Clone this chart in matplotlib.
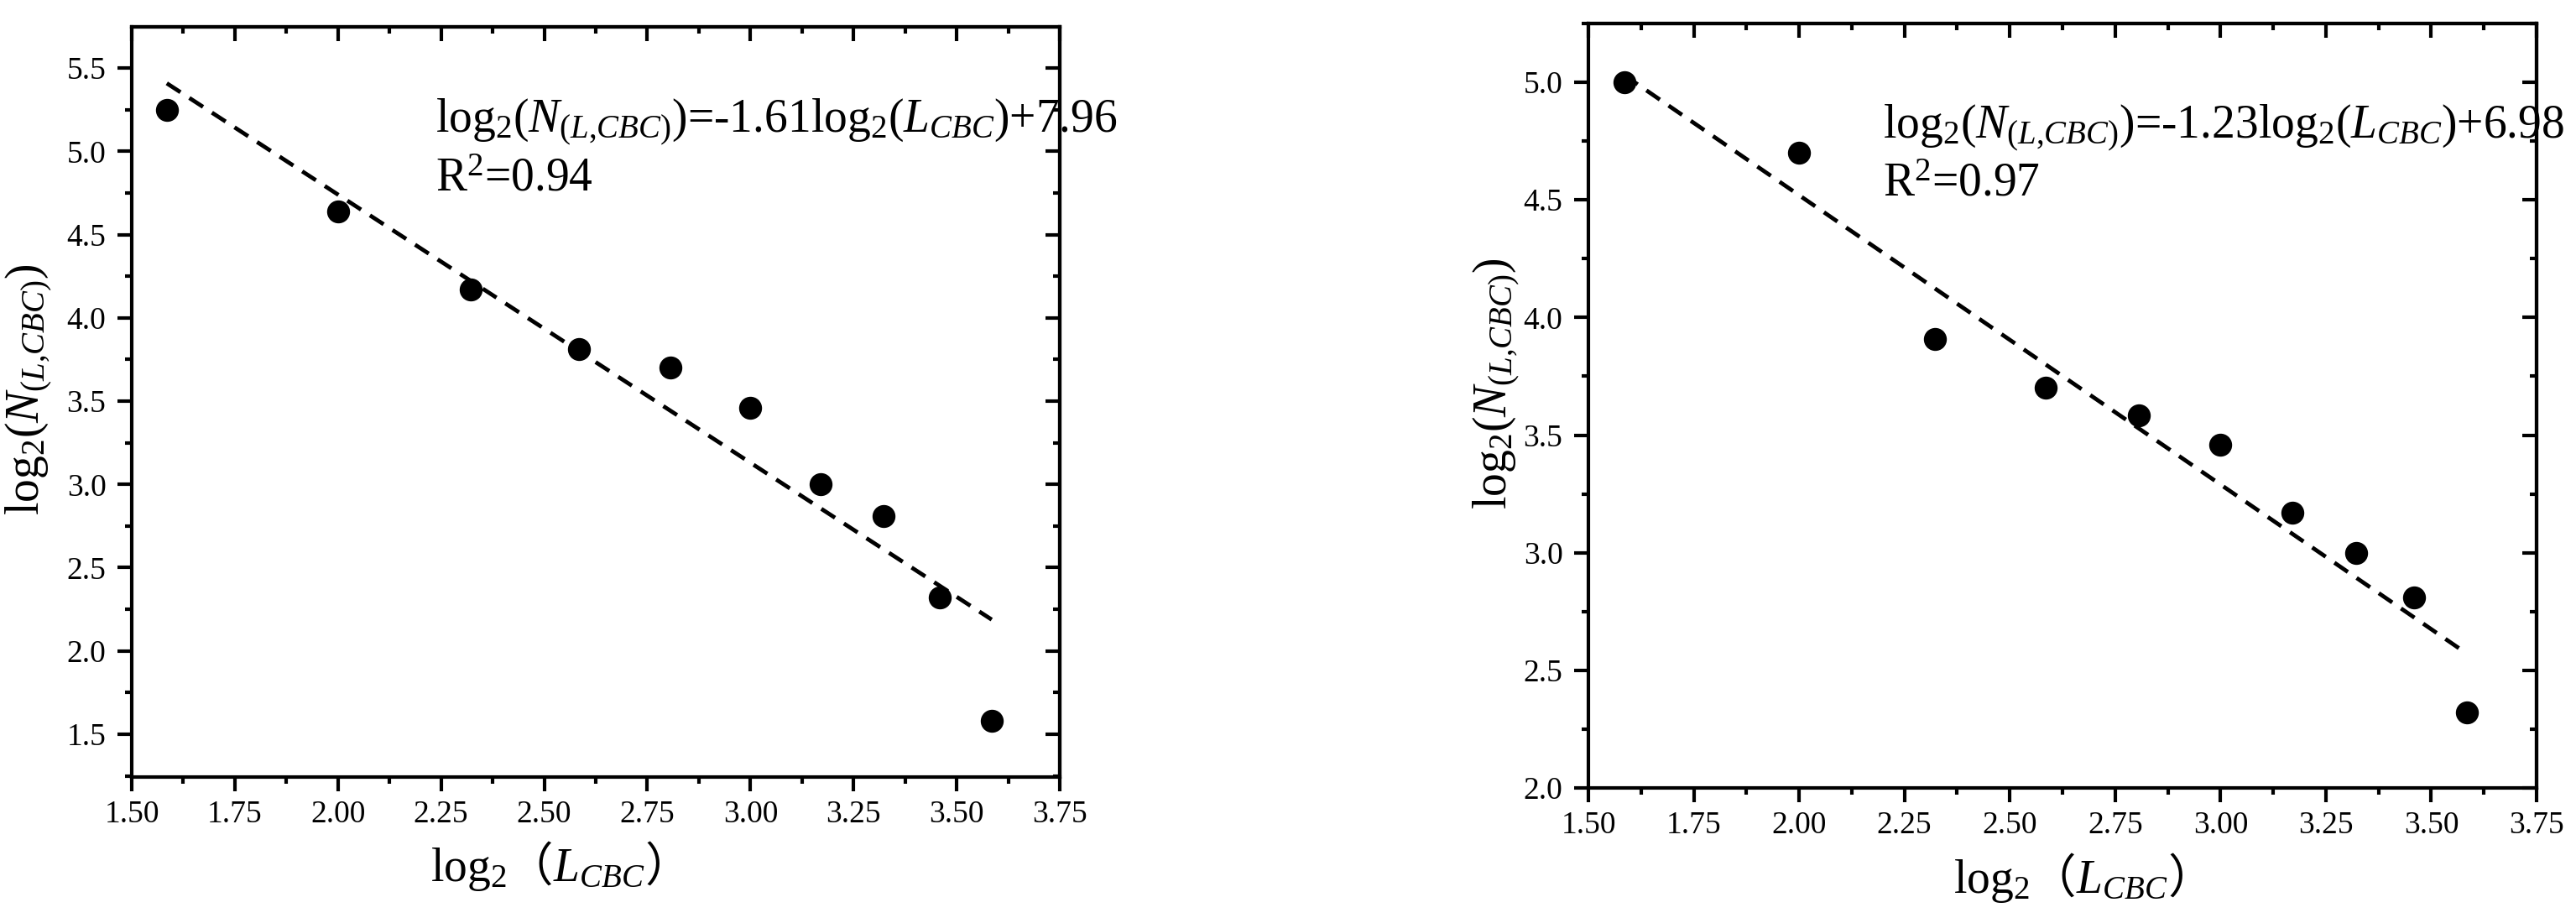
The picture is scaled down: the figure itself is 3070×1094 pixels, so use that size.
import numpy as np
import matplotlib
matplotlib.use("Agg")
import matplotlib.pyplot as plt
from matplotlib.ticker import AutoMinorLocator, FormatStrFormatter, NullFormatter

plt.rcParams['font.family'] = ['Liberation Serif', 'Noto Sans CJK SC', 'DejaVu Sans']
plt.rcParams['mathtext.fontset'] = 'custom'
plt.rcParams['mathtext.rm'] = 'Liberation Serif'
plt.rcParams['mathtext.it'] = 'Liberation Serif:italic'
plt.rcParams['mathtext.bf'] = 'Liberation Serif:bold'

# ---- data ----
x_left = [1.585, 2.000, 2.322, 2.585, 2.807, 3.000, 3.170, 3.322, 3.459, 3.585]
y_left = [5.25, 4.64, 4.17, 3.81, 3.70, 3.46, 3.00, 2.81, 2.32, 1.58]
x_right = [1.585, 2.000, 2.322, 2.585, 2.807, 3.000, 3.170, 3.322, 3.459, 3.585]
y_right = [5.00, 4.70, 3.91, 3.70, 3.585, 3.46, 3.17, 3.00, 2.81, 2.32]
fit_left = (-1.61, 7.96)
fit_right = (-1.23, 6.98)
eq_left = r"log$_2$($N_{(L{,}CBC)}$)=-1.61log$_2$($L_{CBC}$)+7.96"
r2_left = r"R$^2$=0.94"
eq_right = r"log$_2$($N_{(L{,}CBC)}$)=-1.23log$_2$($L_{CBC}$)+6.98"
r2_right = r"R$^2$=0.97"
xticks = [1.50, 1.75, 2.00, 2.25, 2.50, 2.75, 3.00, 3.25, 3.50, 3.75]
yticks_left = [1.5, 2.0, 2.5, 3.0, 3.5, 4.0, 4.5, 5.0, 5.5]
yticks_right = [2.0, 2.5, 3.0, 3.5, 4.0, 4.5, 5.0]

W, H = 3070, 1094
fig = plt.figure(figsize=(W / 100, H / 100), dpi=100)
fig.patch.set_facecolor('white')

axL = fig.add_axes([157 / W, 1 - 926 / H, 1106 / W, 894 / H])
axR = fig.add_axes([1893 / W, 1 - 939 / H, 1130 / W, 911 / H])

TICK_FS = 27
LW = 3.0


def style(ax, yticks, ylim):
    ax.set_xlim(1.5, 3.75)
    ax.set_ylim(*ylim)
    ax.set_xticks(xticks)
    ax.set_yticks(yticks)
    ax.xaxis.set_major_formatter(FormatStrFormatter('%.2f'))
    ax.yaxis.set_major_formatter(FormatStrFormatter('%.1f'))
    ax.xaxis.set_minor_locator(AutoMinorLocator(2))
    ax.yaxis.set_minor_locator(AutoMinorLocator(2))
    ax.tick_params(which='both', direction='out', width=LW, labelsize=TICK_FS,
                   top=False, right=False)
    ax.tick_params(which='major', length=12)
    ax.tick_params(which='minor', length=6)
    ax.tick_params(axis='x', pad=8)
    ax.tick_params(axis='y', pad=10)
    for sp in ax.spines.values():
        sp.set_linewidth(LW)
    # top/right inward ticks
    sx = ax.secondary_xaxis('top')
    sx.set_xticks(xticks)
    sx.xaxis.set_minor_locator(AutoMinorLocator(2))
    sx.xaxis.set_major_formatter(NullFormatter())
    sx.tick_params(which='both', direction='in', width=LW)
    sx.tick_params(which='major', length=12)
    sx.tick_params(which='minor', length=6)
    sx.spines['top'].set_linewidth(LW)
    sy = ax.secondary_yaxis('right')
    sy.set_yticks(yticks)
    sy.yaxis.set_minor_locator(AutoMinorLocator(2))
    sy.yaxis.set_major_formatter(NullFormatter())
    sy.tick_params(which='both', direction='in', width=LW)
    sy.tick_params(which='major', length=12)
    sy.tick_params(which='minor', length=6)
    sy.spines['right'].set_linewidth(LW)


def draw(ax, x, y, fit):
    ax.plot(x, y, 'o', color='black', ms=18.7, zorder=3)
    xf = np.array([x[0], x[-1]])
    yf = fit[0] * xf + fit[1]
    ax.plot(xf, yf, color='black', lw=3.5, ls=(0, (4.0, 2.6)), zorder=2)


draw(axL, x_left, y_left, fit_left)
draw(axR, x_right, y_right, fit_right)
style(axL, yticks_left, (1.243, 5.747))
style(axR, yticks_right, (2.0, 5.25))

EQ_FS = 40
axL.text(0.327, (926 - 157) / 894, eq_left, transform=axL.transAxes,
         fontsize=EQ_FS, ha='left', va='baseline')
axL.text(0.327, (926 - 227) / 894, r2_left, transform=axL.transAxes,
         fontsize=EQ_FS, ha='left', va='baseline')
axR.text(0.311, (939 - 164) / 911, eq_right, transform=axR.transAxes,
         fontsize=EQ_FS, ha='left', va='baseline')
axR.text(0.311, (939 - 234) / 911, r2_right, transform=axR.transAxes,
         fontsize=EQ_FS, ha='left', va='baseline')

renderer = fig.canvas.get_renderer()
SERIF = ['Liberation Serif']
CJK = ['Noto Sans CJK SC', 'DejaVu Sans']


def xlabel_chain(x_px, y_px, size=40):
    pieces = [("log$_2$", SERIF), ("（", CJK), ("$L_{CBC}$", SERIF), ("）", CJK)]
    pos = x_px
    for s, fam in pieces:
        t = fig.text(pos / W, 1 - y_px / H, s, ha='left', va='baseline',
                     fontsize=size, family=fam)
        pos += t.get_window_extent(renderer).width


def ylabel(x_px, y_px, size=40):
    fig.text(x_px / W, 1 - y_px / H, r"log$_2$($N_{(L{,}CBC)}$)", ha='left',
             va='baseline', rotation=90, rotation_mode='anchor', fontsize=size)


xlabel_chain(513, 1050)
xlabel_chain(2328, 1064)
ylabel(46, 614)
ylabel(1795, 607)

fig.savefig("out.png", dpi=100, facecolor='white')
